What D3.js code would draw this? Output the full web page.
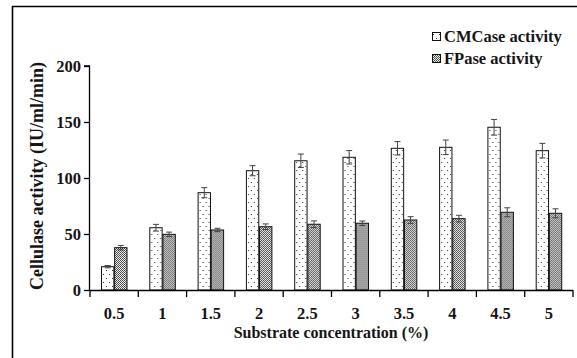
<!DOCTYPE html>
<html><head><meta charset="utf-8">
<script src="https://cdn.jsdelivr.net/npm/d3@7"></script>
<style>html,body{margin:0;padding:0;background:#fff;}svg{display:block;}</style>
</head><body>
<script>
const categories = ["0.5","1","1.5","2","2.5","3","3.5","4","4.5","5"];
const seriesNames = ["CMCase activity","FPase activity"];
const cmcase = [20.8,55.6,86.9,106.5,115.4,118.5,126.5,127.4,145.3,124.4];
const cmcaseErr = [1,3,4.5,4.5,6,6,6,6.5,7,6.5];
const fpase = [37.8,49.7,53.6,56.5,58.7,59.6,62.5,63.7,69.4,68.5];
const fpaseErr = [2,2,1.5,2.5,3,2,3,3,4,4];
const yTicks = [0,50,100,150,200];

const W=577,H=358;
const svg=d3.select("body").append("svg").attr("width",W).attr("height",H);
const defs=svg.append("defs");
const pd=defs.append("pattern").attr("id","dots").attr("patternUnits","userSpaceOnUse").attr("width",6).attr("height",8);
pd.append("rect").attr("width",6).attr("height",8).attr("fill","#fff");
pd.append("rect").attr("x",1).attr("y",2).attr("width",1).attr("height",1).attr("fill","#333");
pd.append("rect").attr("x",4).attr("y",6).attr("width",1).attr("height",1).attr("fill","#333");
const pc=defs.append("pattern").attr("id","check").attr("patternUnits","userSpaceOnUse").attr("width",2).attr("height",2);
pc.append("rect").attr("width",2).attr("height",2).attr("fill","#f0f0f0");
pc.append("rect").attr("x",0).attr("y",0).attr("width",1).attr("height",1).attr("fill","#444");
pc.append("rect").attr("x",1).attr("y",1).attr("width",1).attr("height",1).attr("fill","#555");
const fills=["url(#dots)","url(#check)"];

function tx(sel,size){return sel.style("font-family",'"Liberation Serif"').style("font-weight","bold").style("font-size",size+"px").style("fill","#151515");}

svg.append("path").attr("d","M12.5,358 L12.5,6.5 L577,6.5").attr("fill","none").attr("stroke","#000").attr("stroke-width",1.6);

const x0=d3.scaleBand().domain(categories).range([90,573]).padding(0);
const x1=d3.scaleBand().domain(seriesNames).range([11.5,37]).paddingInner(0.06);
const y=d3.scaleLinear().domain([0,200]).range([290,66]);

const data=categories.map((c,i)=>({c,vals:[{s:seriesNames[0],v:cmcase[i],e:cmcaseErr[i]},{s:seriesNames[1],v:fpase[i],e:fpaseErr[i]}]}));

const g=svg.append("g");
const grp=g.selectAll("g.cat").data(data).join("g").attr("transform",d=>`translate(${x0(d.c)},0)`);
grp.selectAll("rect").data(d=>d.vals).join("rect")
  .attr("x",d=>x1(d.s)).attr("y",d=>y(d.v)).attr("width",x1.bandwidth()).attr("height",d=>y(0)-y(d.v))
  .attr("fill",(d,i)=>fills[i]).attr("stroke","#111").attr("stroke-width",1);
grp.selectAll("g.err").data(d=>d.vals).join("g").attr("class","err").each(function(d){
  const cx=x1(d.s)+x1.bandwidth()/2, s=d3.select(this);
  s.append("line").attr("x1",cx).attr("x2",cx).attr("y1",y(d.v-d.e)).attr("y2",y(d.v+d.e)).attr("stroke","#444").attr("stroke-width",1);
  [d.v-d.e,d.v+d.e].forEach(v=>s.append("line").attr("x1",cx-3).attr("x2",cx+3).attr("y1",y(v)).attr("y2",y(v)).attr("stroke","#444").attr("stroke-width",1));
});

const ya=svg.append("g").attr("transform","translate(90,0)").call(d3.axisLeft(y).tickValues(yTicks).tickSize(6).tickPadding(3).tickFormat(d3.format("d")));
ya.select(".domain").attr("stroke","#000").attr("stroke-width",1.3).attr("d","M-0.5,290V66H-6");
ya.selectAll(".tick line").attr("stroke","#000").attr("stroke-width",1.3);
tx(ya.selectAll(".tick text"),16.5);

const bounds=categories.map(c=>x0(c)).concat([x0.range()[1]]);
const xa=svg.append("g");
xa.append("line").attr("x1",90).attr("x2",573).attr("y1",290.5).attr("y2",290.5).attr("stroke","#000").attr("stroke-width",1.3);
xa.selectAll("line.t").data(bounds).join("line").attr("class","t").attr("x1",d=>d).attr("x2",d=>d).attr("y1",290).attr("y2",297).attr("stroke","#000").attr("stroke-width",1.3);
tx(xa.selectAll("text").data(categories).join("text").attr("x",d=>x0(d)+x0.bandwidth()/2).attr("y",319)
  .attr("text-anchor","middle").text(d=>d),16.5);

tx(svg.append("text").attr("x",331).attr("y",338).attr("text-anchor","middle").text("Substrate concentration (%)"),16);
tx(svg.append("text").attr("transform","translate(43,176) rotate(-90)").attr("text-anchor","middle").text("Cellulase activity (IU/ml/min)"),18);

const lg=svg.append("g");
seriesNames.forEach((s,i)=>{
  const yy=32+i*22;
  lg.append("rect").attr("x",432.5).attr("y",yy+0.5).attr("width",8).attr("height",8).attr("fill",fills[i]).attr("stroke","#111").attr("stroke-width",1);
  tx(lg.append("text").attr("x",444).attr("y",yy+9.5).text(s),16.5);
});
</script>
</body></html>
